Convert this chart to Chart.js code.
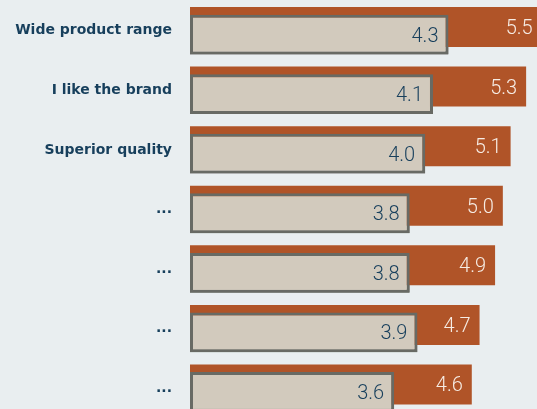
<!DOCTYPE html>
<html>
<head>
<meta charset="utf-8">
<script src="https://cdn.jsdelivr.net/npm/chart.js@4/dist/chart.umd.min.js"></script>
<style>
  html, body { margin: 0; padding: 0; background: #e9eef0; overflow: hidden; }
  #wrap { width: 537px; height: 418px; position: relative; }
</style>
</head>
<body>
<div id="wrap"><canvas id="barChart"></canvas></div>
<script>
var labels = ["Wide product range", "I like the brand", "Superior quality", "...", "...", "...", "..."];
var brandScores = [5.5, 5.3, 5.1, 5.0, 4.9, 4.7, 4.6];
var averageScores = [4.3, 4.1, 4.0, 3.8, 3.8, 3.9, 3.6];

var textColor = '#173f5c';
var xMin = 0.97;

// value labels, and the beige bars redrawn on top of the orange ones
var overlayPlugin = {
    id: 'overlay',
    afterDatasetsDraw: function(chart) {
        var ctx = chart.ctx;
        chart.getDatasetMeta(1).controller.draw();
        ctx.save();
        ctx.font = '300 20px Roboto';
        ctx.textAlign = 'right';
        ctx.textBaseline = 'middle';
        chart.data.datasets.forEach(function(dataset, i) {
            var meta = chart.getDatasetMeta(i);
            meta.data.forEach(function(bar, j) {
                ctx.fillStyle = i === 0 ? '#f6ece4' : textColor;
                var pad = i === 0 ? 9 : 10;
                ctx.fillText(dataset.data[j].toFixed(1), bar.x - pad, bar.y + 2);
            });
        });
        ctx.restore();
    }
};

var ctx = document.getElementById("barChart").getContext('2d');
var barChart = new Chart(ctx, {
    type: 'bar',
    data: {
        labels: labels,
        datasets: [{
            label: 'Brand',
            data: brandScores,
            backgroundColor: '#b05428',
            borderWidth: 0,
            base: xMin,
            categoryPercentage: 0.252,
            barPercentage: 5.33
        }, {
            label: 'Average',
            data: averageScores,
            backgroundColor: '#d2cabd',
            borderColor: '#686a64',
            borderWidth: 3,
            borderSkipped: false,
            base: xMin,
            categoryPercentage: 0.252,
            barPercentage: 5.3
        }]
    },
    plugins: [overlayPlugin],
    options: {
        indexAxis: 'y',
        responsive: true,
        maintainAspectRatio: false,
        animation: false,
        layout: { padding: { top: 1, left: 0, right: 0, bottom: 0 } },
        plugins: {
            legend: { display: false },
            tooltip: { enabled: false }
        },
        scales: {
            x: {
                display: false,
                min: xMin,
                max: 5.44
            },
            y: {
                grid: { display: false, drawTicks: false },
                border: { display: false },
                afterFit: function(scale) {
                    scale.width = 190;
                    scale.paddingTop = 0;
                    scale.paddingBottom = 0;
                },
                ticks: {
                    padding: 18,
                    color: textColor,
                    font: { family: 'DejaVu Sans', size: 14, weight: 'bold' }
                }
            }
        }
    }
});
</script>
</body>
</html>
